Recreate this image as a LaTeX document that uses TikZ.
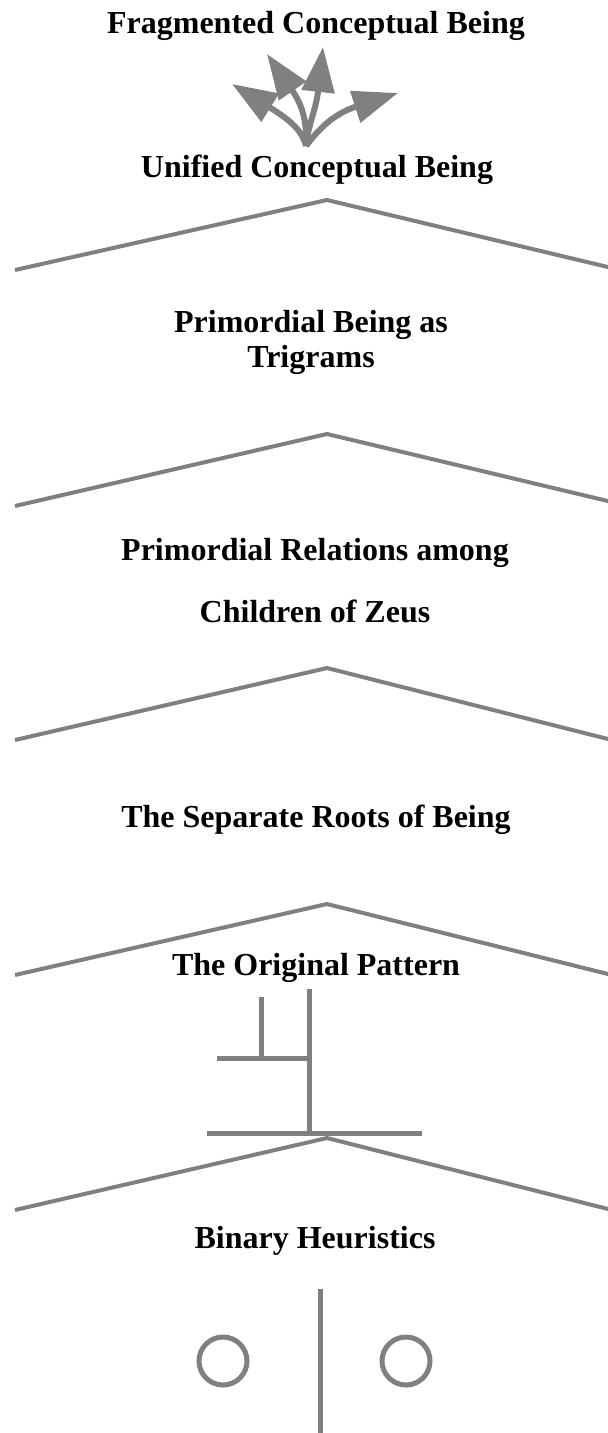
\documentclass[tikz,border=0pt]{standalone}
\usepackage{fontspec}
\setmainfont{Liberation Serif}
\usetikzlibrary{arrows.meta}
\definecolor{lg}{HTML}{808080}
\tikzset{
  lbl/.style={anchor=base, inner sep=0pt, font=\fontsize{32}{38}\selectfont\bfseries},
  roof/.style={draw=lg, line width=4pt, line join=miter},
  arr/.style={draw=lg, line width=6pt, -{Triangle[length=45pt,width=32pt]}},
  pat/.style={draw=lg, line width=5pt},
}
\begin{document}
\begin{tikzpicture}[x=1pt,y=-1pt]
\useasboundingbox (0,0) rectangle (608,1433);
% labels
\node[lbl] (t1) at (316,33) {Fragmented Conceptual Being};
\node[lbl] (t2) at (317,177) {Unified Conceptual Being};
\node[lbl] (t3a) at (311,332) {Primordial Being as};
\node[lbl] (t3b) at (311,367) {Trigrams};
\node[lbl] (t4a) at (315,560) {Primordial Relations among};
\node[lbl] (t4b) at (315,622) {Children of Zeus};
\node[lbl] (t5) at (316,827) {The Separate Roots of Being};
\node[lbl] (t6) at (316,975) {The Original Pattern};
\node[lbl] (t7) at (315,1248) {Binary Heuristics};
% roofs
\foreach \y/\l/\r in {200/270/268, 434/506/502, 668/740/740, 904/975/975, 1138/1210/1210}{
  \draw[roof] (15,\l) -- (327,\y) -- (612,\r);
}
% fragment arrows
\coordinate (b) at (306,146);
\coordinate (a1) at (232,84);
\coordinate (a2) at (267,54);
\coordinate (a3) at (323,47);
\coordinate (a4) at (398,93);
\draw[arr] (b) .. controls (302,130) and (290,120) .. (a1);
\draw[arr] (b) .. controls (307,122) and (303,106) .. (a2);
\draw[arr] (b) .. controls (308,125) and (316,110) .. (a3);
\draw[arr] (b) .. controls (318,130) and (333,114) .. (a4);
% original pattern
\draw[pat] (309,989) -- (309,1133);
\draw[pat] (261,997) -- (261,1058);
\draw[pat] (217,1058) -- (309,1058);
\draw[pat] (207,1133) -- (422,1133);
% binary heuristics
\draw[pat] (223,1361) circle[radius=24];
\draw[pat] (406,1361) circle[radius=24];
\draw[pat] (320,1289) -- (320,1433);
\end{tikzpicture}
\end{document}
